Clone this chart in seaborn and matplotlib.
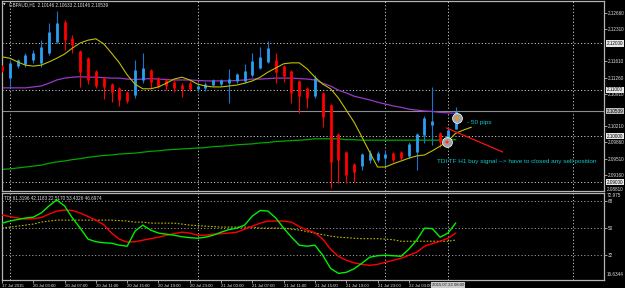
import numpy as np
import pandas as pd
import matplotlib
matplotlib.use("Agg")
import matplotlib.pyplot as plt
import matplotlib.transforms as mtransforms
import seaborn as sns

# ---------------- data ----------------
bar_index = list(range(-1, 58))          # H1 bars, 0 = 20 Jul 00:00
opens = [2.1151, 2.1125, 2.1151, 2.1156, 2.1164, 2.1158, 2.1179, 2.1203, 2.1246, 2.1212,
         2.1184, 2.1168, 2.1140, 2.1125, 2.1112, 2.1104, 2.1095, 2.1089, 2.1121, 2.1143,
         2.1125, 2.1121, 2.1117, 2.1110, 2.1114, 2.1102, 2.1104, 2.1110, 2.1112, 2.1114,
         2.1119, 2.1119, 2.1132, 2.1147, 2.1160, 2.1164, 2.1151, 2.1140, 2.1119, 2.1104,
         2.1086, 2.1093, 2.1067, 2.1004, 2.0965, 2.0940, 2.0935, 2.0948, 2.0948, 2.0952,
         2.0963, 2.0965, 2.0957, 2.0965, 2.1002, 2.1024, 2.1006, 2.0989, 2.10146]
highs = [2.1153, 2.1164, 2.1166, 2.1179, 2.1186, 2.1207, 2.1244, 2.1270, 2.1251, 2.1218,
         2.1186, 2.1171, 2.1143, 2.1127, 2.1114, 2.1106, 2.1097, 2.1164, 2.1179, 2.1145,
         2.1127, 2.1125, 2.1121, 2.1114, 2.1119, 2.1114, 2.1117, 2.1123, 2.1123, 2.1145,
         2.1136, 2.1156, 2.1179, 2.1192, 2.1205, 2.1179, 2.1153, 2.1143, 2.1121, 2.1106,
         2.1132, 2.1095, 2.1069, 2.1006, 2.0968, 2.0942, 2.0963, 2.0970, 2.0968, 2.0970,
         2.0965, 2.0968, 2.0987, 2.1006, 2.1043, 2.1106, 2.1009, 2.1017, 2.10633]
lows = [2.1138, 2.1104, 2.1147, 2.1149, 2.1158, 2.1149, 2.1175, 2.1201, 2.1186, 2.1179,
        2.1106, 2.1112, 2.1104, 2.1080, 2.1073, 2.1065, 2.1071, 2.1082, 2.1114, 2.1104,
        2.1104, 2.1099, 2.1095, 2.1084, 2.1097, 2.1095, 2.1097, 2.1108, 2.1108, 2.1071,
        2.1114, 2.1114, 2.1127, 2.1145, 2.1158, 2.1114, 2.1117, 2.1071, 2.1050, 2.1060,
        2.1082, 2.1019, 2.0888, 2.0898, 2.0898, 2.0901, 2.0927, 2.0942, 2.0944, 2.0933,
        2.0944, 2.0948, 2.0952, 2.0927, 2.0985, 2.0981, 2.0976, 2.0985, 2.10146]
closes = [2.1140, 2.1158, 2.1164, 2.1175, 2.1179, 2.1192, 2.1225, 2.1244, 2.1207, 2.1197,
          2.1138, 2.1121, 2.1108, 2.1106, 2.1095, 2.1078, 2.1076, 2.1143, 2.1147, 2.1117,
          2.1108, 2.1108, 2.1104, 2.1102, 2.1102, 2.1108, 2.1112, 2.1121, 2.1121, 2.1123,
          2.1134, 2.1140, 2.1162, 2.1171, 2.1190, 2.1138, 2.1130, 2.1093, 2.1086, 2.1082,
          2.1125, 2.1041, 2.0944, 2.0948, 2.0916, 2.0922, 2.0961, 2.0963, 2.0963, 2.0961,
          2.0948, 2.0952, 2.0983, 2.1004, 2.1039, 2.1032, 2.0987, 2.1013, 2.10539]

# yellow MA is drawn two bars ahead of the last bar
yellow_ma_index = list(range(-1, 60))
yellow_ma = [2.1171, 2.1168, 2.1160, 2.1153, 2.1151, 2.1153, 2.1160, 2.1168, 2.1177, 2.1190,
             2.1201, 2.1207, 2.1210, 2.1199, 2.1179, 2.1158, 2.1132, 2.1112, 2.1102, 2.1102,
             2.1106, 2.1114, 2.1123, 2.1127, 2.1121, 2.1112, 2.1108, 2.1106, 2.1106, 2.1108,
             2.1110, 2.1114, 2.1119, 2.1127, 2.1138, 2.1147, 2.1156, 2.1158, 2.1158, 2.1145,
             2.1127, 2.1112, 2.1102, 2.1082, 2.1056, 2.1030, 2.0998, 2.0965, 2.0933, 2.0933,
             2.0940, 2.0946, 2.0952, 2.0957, 2.0959, 2.0968, 2.0978, 2.0989, 2.1006, 2.1013,
             2.1019]
purple_ma = [2.1104, 2.1104, 2.1104, 2.1104, 2.1106, 2.1108, 2.1114, 2.1121, 2.1125, 2.1127,
             2.1128, 2.1127, 2.1127, 2.1126, 2.1125, 2.1125, 2.1123, 2.1122, 2.1123, 2.1124,
             2.1123, 2.1122, 2.1121, 2.1121, 2.1121, 2.1120, 2.1119, 2.1119, 2.1119, 2.1119,
             2.1120, 2.1121, 2.1123, 2.1123, 2.1124, 2.1125, 2.1125, 2.1125, 2.1124, 2.1123,
             2.1121, 2.1114, 2.1108, 2.1099, 2.1093, 2.1086, 2.1082, 2.1078, 2.1073, 2.1069,
             2.1065, 2.1062, 2.1058, 2.1056, 2.1054, 2.1053, 2.1051, 2.1050, 2.1049]
green_ma = [2.0928, 2.0929, 2.0931, 2.0933, 2.0935, 2.0937, 2.0941, 2.0944, 2.0946, 2.0949,
            2.0951, 2.0954, 2.0956, 2.0958, 2.0959, 2.0961, 2.0962, 2.0963, 2.0965, 2.0967,
            2.0968, 2.0970, 2.0971, 2.0972, 2.0973, 2.0974, 2.0975, 2.0977, 2.0978, 2.0979,
            2.0981, 2.0982, 2.0983, 2.0985, 2.0986, 2.0988, 2.0989, 2.0990, 2.0991, 2.0992,
            2.0994, 2.0994, 2.0994, 2.0994, 2.0992, 2.0992, 2.0991, 2.0991, 2.0991, 2.0991,
            2.0991, 2.0991, 2.0991, 2.0991, 2.0991, 2.0991, 2.0991, 2.0992, 2.0992]

# TDI panel
tdi_green = [53.3, 54.7, 55.7, 56.7, 57.3, 60.0, 64.7, 68.7, 64.7, 56.7,
             50.0, 42.7, 41.0, 40.3, 40.0, 38.7, 38.0, 48.0, 52.0, 48.7,
             46.7, 46.0, 45.3, 44.3, 43.7, 43.3, 44.0, 45.3, 47.3, 49.0,
             50.0, 52.0, 58.0, 61.7, 61.3, 56.7, 50.0, 44.0, 38.7, 38.0,
             38.7, 32.0, 23.3, 20.0, 20.7, 23.0, 26.7, 30.7, 31.7, 32.0,
             31.7, 31.3, 36.0, 42.0, 50.0, 49.7, 44.0, 46.7, 53.43]
tdi_red = [58.7, 57.7, 56.7, 56.0, 56.3, 57.0, 59.3, 61.3, 62.0, 61.7,
           60.0, 57.7, 55.3, 52.3, 46.7, 42.7, 40.7, 41.0, 42.0, 43.0,
           44.0, 45.3, 46.3, 47.3, 46.7, 45.3, 45.3, 46.0, 46.3, 46.7,
           47.3, 49.3, 51.3, 53.3, 54.7, 54.7, 54.7, 54.0, 51.0, 48.7,
           47.0, 42.7, 36.0, 31.3, 28.7, 27.0, 26.0, 25.3, 26.0, 27.3,
           28.7, 30.0, 32.0, 34.0, 38.0, 39.7, 41.3, 43.3, 46.70]
tdi_yellow = [50.0, 50.7, 51.3, 52.0, 52.7, 54.0, 54.7, 55.3, 55.3, 55.3,
              55.3, 55.3, 55.3, 55.3, 55.3, 55.0, 54.7, 54.0, 54.0, 53.3,
              53.3, 53.3, 53.3, 52.7, 52.0, 51.7, 51.3, 51.0, 50.7, 50.7,
              50.7, 50.7, 50.7, 50.0, 50.0, 50.0, 50.0, 49.3, 48.7, 47.7,
              46.7, 45.7, 44.7, 44.0, 43.7, 43.3, 43.0, 43.0, 43.0, 42.7,
              42.3, 41.3, 41.3, 41.3, 41.3, 41.3, 41.3, 41.3, 42.12]

price_ticks = [2.12660, 2.12310, 2.11610, 2.11260, 2.10910, 2.10210, 2.09860, 2.09510, 2.09160]
price_levels = [2.12000, 2.11000, 2.10000, 2.09000]
bid_price = 2.10539
tdi_levels = [68, 50, 32]
time_tick_index = [-1, 3, 7, 11, 15, 19, 23, 27, 31, 35, 39, 43, 47, 51]
time_tick_labels = ["17 Jul 2015", "20 Jul 03:00", "20 Jul 07:00", "20 Jul 11:00",
                    "20 Jul 15:00", "20 Jul 19:00", "20 Jul 23:00", "21 Jul 03:00",
                    "21 Jul 07:00", "21 Jul 11:00", "21 Jul 15:00", "21 Jul 19:00",
                    "21 Jul 23:00", "22 Jul 03:00"]
day_separators = [0, 24, 48, 72]
cursor_index = 56
cursor_label = "2015.07.22 08:00"
title_text = "GBPAUD,H1  2.10146 2.10633 2.10146 2.10539"
tdi_text = "TDI 61.3196 42.1183 22.5170 53.4326 46.6974"
signal_points_index = [57.16, 55.88]
signal_points_price = [2.10389, 2.09870]
arrow_index = [55.8, 63.0]
arrow_price = [2.10175, 2.09655]
note_pips = "- 50 pips"
note_pips_pos = (58.5, 2.10281)
note_signal = "TDI TF H1 buy signal --> have to closed any sell position"
note_signal_pos = (54.6, 2.09460)

# ---------------- styling ----------------
sns.set_theme(style="dark", rc={"axes.facecolor": "black", "figure.facecolor": "black"})
FONT = ["Liberation Sans Narrow", "Liberation Sans", "DejaVu Sans"]
plt.rcParams["font.family"] = FONT

W, H = 625, 288
fig = plt.figure(figsize=(W / 100, H / 100), dpi=100)
fig.patch.set_facecolor("black")

def frac(x0, y0, x1, y1):
    return [x0 / W, 1 - y1 / H, (x1 - x0) / W, (y1 - y0) / H]

ax = fig.add_axes(frac(2, 1, 604, 191))
ax2 = fig.add_axes(frac(2, 193, 604, 280), sharex=ax)
for a in (ax, ax2):
    a.set_facecolor("black")
    for s in a.spines.values():
        s.set_color("#b4b4b4")
        s.set_linewidth(0.9)
    a.grid(False)

XMIN, XMAX = -1.0, 75.95
ax.set_xlim(XMIN, XMAX)
ax.set_ylim(2.08812, 2.12916)
ax2.set_ylim(15.6, 73.3)

DOT = (0, (1.2, 2.2))
GRID_C = "#c8c8c8"
for lvl in price_levels:
    ax.axhline(lvl, color=GRID_C, lw=0.7, ls=DOT, zorder=1)
for lvl in tdi_levels:
    ax2.axhline(lvl, color="#9a9a9a", lw=0.7, ls=DOT, zorder=1)
for a in (ax, ax2):
    for d in day_separators + [cursor_index]:
        a.axvline(d, color=GRID_C, lw=0.7, ls=DOT, zorder=1)
ax.axhline(bid_price, color="#8c8c8c", lw=0.8, zorder=1)

# ---------------- candles ----------------
df = pd.DataFrame({"i": bar_index, "o": opens, "h": highs, "l": lows, "c": closes})
up = df[df.c >= df.o]
dn = df[df.c < df.o]
ax.vlines(up.i, up.l, up.h, color="#1c74c8", lw=0.8, zorder=3)
ax.vlines(up.i, up.o, up.c, color="#2aa0f5", lw=2.0, zorder=4)
ax.vlines(dn.i, dn.l, dn.h, color="#ff0000", lw=0.8, zorder=3)
ax.vlines(dn.i, dn.c, dn.o, color="#ff0000", lw=2.0, zorder=4)

# ---------------- moving averages ----------------
sns.lineplot(x=bar_index, y=green_ma, ax=ax, color="#00a800", lw=0.9, zorder=2)
sns.lineplot(x=bar_index, y=purple_ma, ax=ax, color="#9a38c8", lw=0.9, zorder=2)
sns.lineplot(x=yellow_ma_index, y=yellow_ma, ax=ax, color="#c0c000", lw=0.8, zorder=5)

# annotations
ax.plot(arrow_index, arrow_price, color="#ff1010", lw=0.9, zorder=6)
ax.scatter(signal_points_index, signal_points_price, s=50, facecolor="#a0a0a0",
           edgecolor="#f0f0f0", linewidth=0.6, zorder=7)
ax.scatter(signal_points_index, signal_points_price, s=1.5, color=["#ff9000", "#ff3020"], zorder=8)
ax.text(*note_pips_pos, note_pips, color="#10c8c8", fontsize=4.6, va="center", ha="left", zorder=9)
ax.text(*note_signal_pos, note_signal, color="#10c8c8", fontsize=4.6, va="center", ha="left", zorder=9)

# ---------------- TDI ----------------
sns.lineplot(x=bar_index, y=tdi_yellow, ax=ax2, color="#b8b800", lw=0.8, ls=(0, (1.5, 1.5)), zorder=2)
sns.lineplot(x=bar_index, y=tdi_red, ax=ax2, color="#ff0000", lw=1.0, zorder=3)
sns.lineplot(x=bar_index, y=tdi_green, ax=ax2, color="#00f000", lw=1.0, zorder=4)

# ---------------- axes labels ----------------
TXT = "#e0e0e0"
FS = 3.3
ax.yaxis.tick_right()
ax.set_yticks(price_ticks)
ax.set_yticklabels([f"{v:.5f}" for v in price_ticks])
ax.tick_params(axis="y", right=True, left=False, length=2, width=0.6, color="#b4b4b4",
               labelsize=FS, labelcolor=TXT, pad=1)
ax.tick_params(axis="x", bottom=False, labelbottom=False)
ax.set_xlabel("")
ax.set_ylabel("")

tr = mtransforms.blended_transform_factory(ax.transAxes, ax.transData)
for lvl in price_levels:
    ax.text(1.005, lvl, f"{lvl:.5f}", transform=tr, fontsize=FS, color="black", va="center",
            ha="left", bbox=dict(boxstyle="square,pad=0.15", fc="#e6e6e6", ec="none"), clip_on=False)
ax.text(1.005, bid_price, f"{bid_price:.5f}", transform=tr, fontsize=FS, color="black",
        va="center", ha="left", bbox=dict(boxstyle="square,pad=0.15", fc="#bcbcbc", ec="none"),
        clip_on=False)
ax.text(1.005, 2.0885, "2.08810", transform=tr, fontsize=FS, color=TXT, va="center",
        ha="left", clip_on=False)

ax2.yaxis.tick_right()
ax2.set_yticks(tdi_levels)
ax2.set_yticklabels([str(v) for v in tdi_levels])
ax2.tick_params(axis="y", right=True, left=False, length=2, width=0.6, color="#b4b4b4",
                labelsize=FS, labelcolor=TXT, pad=1)
ax2.text(1.005, 1.0, "72.975", transform=ax2.transAxes, fontsize=FS, color=TXT,
         va="top", ha="left")
ax2.text(1.005, 0.04, "16.6344", transform=ax2.transAxes, fontsize=FS, color=TXT,
         va="bottom", ha="left")
ax2.set_ylabel("")

ax2.set_xticks(time_tick_index)
ax2.set_xticklabels(time_tick_labels, ha="left")
ax2.tick_params(axis="x", bottom=True, length=2, width=0.6, color="#b4b4b4",
                labelsize=3.1, labelcolor=TXT, pad=1)
trx = mtransforms.blended_transform_factory(ax2.transData, ax2.transAxes)
ax2.text(cursor_index, -0.035, cursor_label, transform=trx, fontsize=3.1, color="#202020",
         ha="center", va="top", bbox=dict(boxstyle="square,pad=0.15", fc="#c8c8c8", ec="none"),
         clip_on=False)
ax2.set_xlabel("")

fig.text(3 / W, 1 - 5 / H, "\u25bc", fontsize=2.4, color=TXT, va="center", ha="left",
         family=["DejaVu Sans"])
fig.text(9 / W, 1 - 5 / H, title_text, fontsize=FS, color=TXT, va="center", ha="left")
fig.text(4 / W, 1 - 198 / H, tdi_text, fontsize=FS, color=TXT, va="center", ha="left")

fig.savefig("out.png", dpi=100, facecolor="black")
